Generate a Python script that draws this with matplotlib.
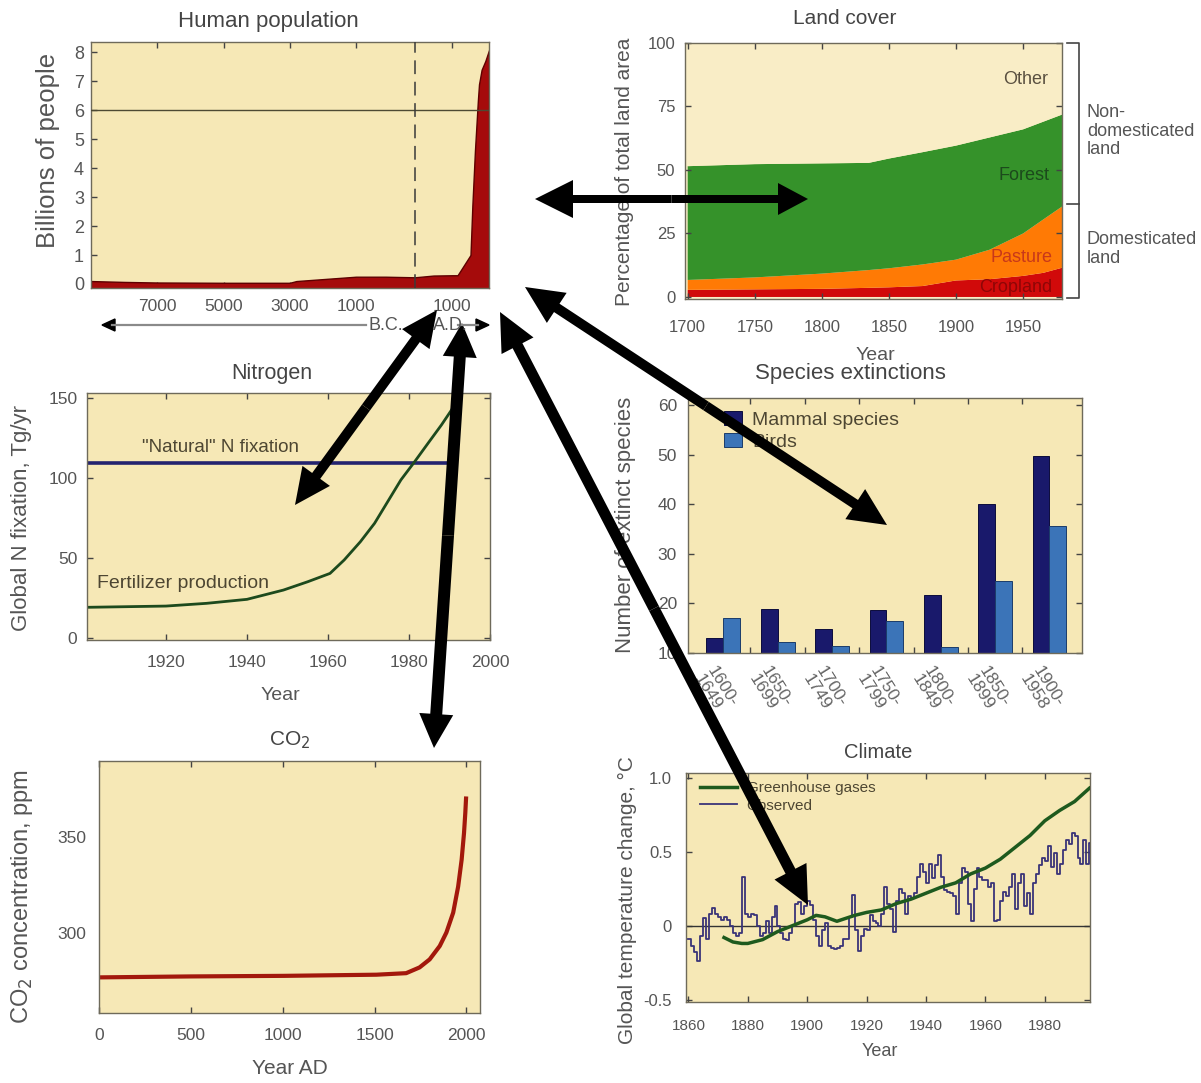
import numpy as np
import matplotlib
matplotlib.use("Agg")
import matplotlib.pyplot as plt
from matplotlib.patches import FancyArrow, Polygon

plt.rcParams['font.family'] = ['Liberation Sans', 'DejaVu Sans']

# ---------------- data ----------------
pop_years = [-9000, -8000, -7000, -5000, -3000, -2800, -1000, -500, 0, 500, 1000,
             1150, 1300, 1450, 1500, 1550, 1620, 1700, 1730, 1800, 1900, 2000]
pop_billions = [0.10, 0.07, 0.05, 0.04, 0.04, 0.10, 0.25, 0.25, 0.23, 0.29, 0.30,
                0.30, 0.60, 0.90, 1.00, 2.7, 4.6, 6.35, 6.9, 7.4, 7.7, 8.08]
pop_xticks = [-7000, -5000, -3000, -1000, 1000]
pop_xticklabels = ['7000', '5000', '3000', '1000', '1000']
pop_yticks = [0, 1, 2, 3, 4, 5, 6, 7, 8]

land_years = [1700, 1750, 1800, 1835, 1850, 1875, 1900, 1925, 1950, 1965, 1979]
cropland = [2.8, 3.0, 3.2, 3.6, 3.8, 4.3, 6.5, 7.0, 8.3, 9.5, 11.5]
pasture = [3.9, 4.7, 6.0, 7.0, 7.5, 8.5, 8.2, 11.6, 16.7, 21.0, 24.1]
forest = [44.8, 44.6, 43.4, 42.2, 43.2, 44.2, 44.9, 44.2, 41.0, 38.5, 36.2]
land_xticks = [1700, 1750, 1800, 1850, 1900, 1950]
land_yticks = [0, 25, 50, 75, 100]

n_years = [1900, 1920, 1930, 1940, 1949, 1955, 1960.5, 1964, 1968, 1971.5, 1975,
           1978, 1981.4, 1984.7, 1988, 1990.5]
fertilizer = [19.4, 20.2, 21.9, 24.4, 30.2, 35.4, 40.6, 49, 60.4, 71.9, 86.5,
              99, 110.4, 121.9, 133.3, 142.7]
natural_years = [1900, 1990]
natural_fix = [109.4, 109.4]
n_xticks = [1920, 1940, 1960, 1980, 2000]
n_yticks = [0, 50, 100, 150]

ext_periods = ['1600-\n1649', '1650-\n1699', '1700-\n1749', '1750-\n1799',
               '1800-\n1849', '1850-\n1899', '1900-\n1958']
mammals = [13.1, 18.9, 14.8, 18.6, 21.7, 40.1, 49.7]
birds = [17.0, 12.2, 11.5, 16.5, 11.2, 24.6, 35.6]
ext_yticks = [10, 20, 30, 40, 50, 60]

co2_years = [0, 500, 1007, 1510, 1672, 1745, 1800, 1855, 1891, 1928, 1955,
             1974, 1987, 1994, 1998]
co2_ppm = [276.6, 277.1, 277.4, 278.0, 278.8, 281.8, 286.0, 293.0, 300.0, 310.4,
           324.0, 338.0, 352.0, 362.5, 370.0]
co2_xticks = [0, 500, 1000, 1500, 2000]
co2_yticks = [300, 350]

ghg_years = [1872, 1875, 1878, 1880, 1885, 1890, 1895, 1900, 1903, 1906, 1910,
             1913, 1916, 1920, 1925, 1930, 1935, 1940, 1945, 1950, 1955, 1960,
             1965, 1970, 1975, 1980, 1985, 1990, 1995]
ghg_temp = [-0.08, -0.11, -0.12, -0.12, -0.094, -0.04, 0.0, 0.04, 0.07, 0.06,
            0.03, 0.05, 0.07, 0.09, 0.107, 0.15, 0.18, 0.22, 0.26, 0.29, 0.35,
            0.39, 0.45, 0.53, 0.61, 0.71, 0.78, 0.84, 0.93]
obs_years = list(range(1860, 1997))
obs_temp = [-0.09, -0.14, -0.18, -0.24, -0.07, 0.05, -0.09, 0.08, 0.12, 0.08,
            0.06, 0.04, 0.06, 0.04, 0.0, -0.05, -0.07, -0.05, 0.33, 0.08,
            0.06, 0.08, 0.07, 0.0, -0.07, -0.05, 0.03, -0.05, 0.06, 0.13,
            0.0, -0.05, -0.09, -0.10, -0.05, 0.0, 0.15, 0.16, 0.08, 0.13,
            0.17, 0.14, 0.04, -0.07, -0.14, -0.03, 0.02, -0.14, -0.15, -0.16,
            -0.15, -0.14, -0.09, -0.09, 0.06, 0.21, -0.03, -0.17, -0.07, -0.02,
            -0.03, 0.07, 0.03, 0.02, 0.0, 0.08, 0.26, 0.15, 0.11, -0.04,
            0.17, 0.25, 0.22, 0.08, 0.20, 0.19, 0.22, 0.33, 0.42, 0.36,
            0.29, 0.42, 0.32, 0.41, 0.48, 0.33, 0.24, 0.23, 0.22, 0.20,
            0.08, 0.29, 0.39, 0.36, 0.15, 0.03, 0.25, 0.39, 0.33, 0.31,
            0.31, 0.26, 0.29, 0.03, 0.04, 0.17, 0.23, 0.20, 0.26, 0.35,
            0.11, 0.29, 0.35, 0.13, 0.22, 0.08, 0.29, 0.35, 0.41, 0.46,
            0.44, 0.54, 0.40, 0.49, 0.35, 0.42, 0.51, 0.58, 0.55, 0.63,
            0.61, 0.46, 0.42, 0.58, 0.42, 0.56, 0.56]
clim_xticks = [1860, 1880, 1900, 1920, 1940, 1960, 1980]
clim_yticks = [-0.5, 0, 0.5, 1.0]
clim_yticklabels = ['-0.5', '0', '0.5', '1.0']

# ---------------- layout helpers ----------------
W, H = 1201, 1083
fig = plt.figure(figsize=(W / 100, H / 100), dpi=100)
fig.patch.set_facecolor('white')

BG = '#f6e8b6'
SPINE = '#6e6a5a'
TXT = '#555555'
TTL = '#444444'


def rect(l, t, r, b):
    return [l / W, 1 - b / H, (r - l) / W, (b - t) / H]


def fxy(px, py):
    return px / W, 1 - py / H


def style(ax, xsize=12.5, ysize=12.5, xpad=7, ypad=5, bg=BG):
    ax.set_facecolor(bg)
    for s in ax.spines.values():
        s.set_color(SPINE)
        s.set_linewidth(1.0)
    ax.tick_params(direction='in', top=True, right=True, length=4, width=1,
                   color='#444444', labelcolor=TXT)
    ax.tick_params(axis='x', labelsize=xsize, pad=xpad)
    ax.tick_params(axis='y', labelsize=ysize, pad=ypad)


def title(ax, text, px, py, size):
    l, b, w, h = ax.get_position().bounds
    fx, fy = fxy(px, py)
    ax.set_title(text, fontsize=size, color=TTL, va='center', ha='center',
                 x=(fx - l) / w, y=(fy - b) / h, pad=0, loc='center')


def xlabel(ax, text, px, py, size=14):
    ax.set_xlabel(text, fontsize=size, color=TXT, va='center')
    ax.xaxis.set_label_coords(*fxy(px, py), transform=fig.transFigure)


def ylabel(ax, text, px, py, size=15):
    ax.set_ylabel(text, fontsize=size, color=TXT, va='center')
    ax.yaxis.set_label_coords(*fxy(px, py), transform=fig.transFigure)


def pw(x, xs, ys):
    x = np.asarray(x, dtype=float)
    y = np.interp(x, xs, ys)
    y = np.where(x < xs[0], ys[0] + (x - xs[0]) * (ys[1] - ys[0]) / (xs[1] - xs[0]), y)
    y = np.where(x > xs[-1], ys[-1] + (x - xs[-1]) * (ys[-1] - ys[-2]) / (xs[-1] - xs[-2]), y)
    return y


# ---------------- Human population ----------------
ax1 = fig.add_axes(rect(91, 42, 489, 288))
style(ax1, xsize=12.5, ysize=13, xpad=8, ypad=5)
kn_year = [-9000.0, -1000.0, 0.0, 2000.0]
kn_pos = [0.0, 265.0, 324.0, 398.0]
ax1.set_xscale('function', functions=(lambda x: pw(x, kn_year, kn_pos),
                                      lambda p: pw(p, kn_pos, kn_year)))
ax1.fill_between(pop_years, pop_billions, -1, color='#a50b0b',
                 edgecolor='#5e0000', linewidth=1.0, zorder=2)
ax1.axhline(6, color='#4d4a33', lw=1.0, zorder=3)
ax1.axvline(0, color='#3a3a3a', lw=1.1, ls=(0, (9, 5)), zorder=3)
ax1.set_xlim(-9000, 2000)
ax1.set_ylim(-0.14, 8.36)
ax1.set_xticks(pop_xticks, pop_xticklabels)
ax1.set_yticks(pop_yticks)
ax1.tick_params(right=False)
title(ax1, 'Human population', 268, 21, 16)
ylabel(ax1, 'Billions of people', 48, 150, 18.5)

# ---------------- Land cover ----------------
ax2 = fig.add_axes(rect(685, 43, 1062, 299))
style(ax2, xsize=12, ysize=12, xpad=15, ypad=7, bg='#f9edc6')
other = [100 - c - p - f for c, p, f in zip(cropland, pasture, forest)]
ax2.stackplot(land_years, cropland, pasture, forest, other,
              colors=['#d10a0a', '#ff7a05', '#35922a', '#f9edc6'], lw=0)
ax2.set_xlim(1698, 1979)
ax2.set_ylim(-0.8, 100)
ax2.set_xticks(land_xticks)
ax2.set_yticks(land_yticks)
title(ax2, 'Land cover', 845, 19, 15)
xlabel(ax2, 'Year', 875, 355, 14)
ylabel(ax2, 'Percentage of total land area', 625, 172, 15)

# ---------------- Nitrogen ----------------
ax3 = fig.add_axes(rect(87, 393, 490, 640))
style(ax3, xsize=12.5, ysize=12.5, xpad=11, ypad=7)
ax3.plot(natural_years, natural_fix, color='#23236f', lw=2.6, solid_capstyle='butt')
ax3.plot(n_years, fertilizer, color='#1d4a1d', lw=2.0)
ax3.set_xlim(1900.5, 2000)
ax3.set_ylim(-1, 153.3)
ax3.set_xticks(n_xticks)
ax3.set_yticks(n_yticks)
title(ax3, 'Nitrogen', 272, 373, 15.5)
xlabel(ax3, 'Year', 280, 695, 14)
ylabel(ax3, 'Global N fixation, Tg/yr', 22, 518, 16)

# ---------------- Species extinctions ----------------
ax4 = fig.add_axes(rect(688, 398, 1082, 653))
style(ax4, xsize=11, ysize=12.5, xpad=4, ypad=8)
pos = np.arange(len(ext_periods))
bw = 0.31
b1 = ax4.bar(pos - bw / 2, mammals, bw, color='#19196b', edgecolor='#0c0c3c', lw=0.7)
b2 = ax4.bar(pos + bw / 2, birds, bw, color='#3b74b8', edgecolor='#1b3c6a', lw=0.7)
ax4.set_xlim(-0.65, 6.6)
ax4.set_ylim(10, 61.4)
ax4.set_yticks(ext_yticks)
ax4.set_xticks(pos[:-1] + 0.5)
ax4.tick_params(axis='x', labelbottom=False)
for i, lab in enumerate(ext_periods):
    ax4.text(i - 0.12, -0.04, lab, transform=ax4.get_xaxis_transform(),
             rotation=-58, rotation_mode='anchor', ha='left', va='top',
             fontsize=12.5, color='#666666', linespacing=1.0)
leg4 = ax4.legend([b1, b2], ['Mammal species', 'Birds'], loc='upper left',
                  bbox_to_anchor=((724 - 688) / 394, (653 - 411) / 255),
                  frameon=False, fontsize=14, handlelength=0.95, handleheight=0.75,
                  handletextpad=0.5, borderpad=0, borderaxespad=0, labelspacing=0.2)
for t in leg4.get_texts():
    t.set_color('#4d4632')
title(ax4, 'Species extinctions', 850, 373, 16)
ylabel(ax4, 'Number of extinct species', 625, 525, 16)

# ---------------- CO2 ----------------
ax5 = fig.add_axes(rect(99, 761, 480, 1013))
style(ax5, xsize=12.5, ysize=12.5, xpad=11, ypad=9)
ax5.plot(co2_years, co2_ppm, color='#a3180c', lw=3.0)
ax5.set_xlim(0, 2074)
ax5.set_ylim(258, 389.6)
ax5.set_xticks(co2_xticks)
ax5.set_yticks(co2_yticks)
ax5.tick_params(right=False, left=False)
title(ax5, 'CO$_2$', 290, 740, 15)
xlabel(ax5, 'Year AD', 290, 1068, 15)
ylabel(ax5, 'CO$_2$ concentration, ppm', 22, 897, 17)

# ---------------- Climate ----------------
ax6 = fig.add_axes(rect(686, 773, 1090, 1002))
style(ax6, xsize=11, ysize=12, xpad=12, ypad=10)
ax6.axhline(0, color='#333333', lw=1.0, zorder=2)
l_obs, = ax6.step(obs_years, obs_temp, where='post', color='#3a3478', lw=1.3, zorder=3)
l_ghg, = ax6.plot(ghg_years, ghg_temp, color='#1e5a1e', lw=2.5, zorder=4)
ax6.set_xlim(1859.2, 1995.2)
ax6.set_ylim(-0.516, 1.033)
ax6.set_xticks(clim_xticks)
ax6.set_yticks(clim_yticks, clim_yticklabels)
leg6 = ax6.legend([l_ghg, l_obs], ['Greenhouse gases', 'Observed'], loc='upper left',
                  bbox_to_anchor=((700 - 686) / 404, (1002 - 781) / 229),
                  frameon=False, fontsize=11, handlelength=2.4, handletextpad=0.65,
                  borderpad=0, borderaxespad=0, labelspacing=0.25)
for t in leg6.get_texts():
    t.set_color('#4d4632')
title(ax6, 'Climate', 878, 752, 14.5)
xlabel(ax6, 'Year', 880, 1052, 13)
ylabel(ax6, 'Global temperature change, \u00b0C', 627, 900, 15)

# ---------------- overlay: annotations and arrows ----------------
ov = fig.add_axes([0, 0, 1, 1], zorder=20)
ov.set_xlim(0, W)
ov.set_ylim(H, 0)
ov.axis('off')
ov.patch.set_alpha(0)

# land cover in-panel labels
ov.text(1048, 80, 'Other', ha='right', va='center', fontsize=13, color='#5a5040')
ov.text(1050, 175, 'Forest', ha='right', va='center', fontsize=13, color='#1c4a1c')
ov.text(1052, 257, 'Pasture', ha='right', va='center', fontsize=13, color='#c8381a')
ov.text(1052, 287, 'Cropland', ha='right', va='center', fontsize=13, color='#8e0606')

# bracket on the right of land cover
ov.plot([1067, 1079, 1079, 1067], [43, 43, 298, 298], color='#444444', lw=1.2)
ov.plot([1067, 1079], [204, 204], color='#444444', lw=1.2)
ov.text(1087, 131, 'Non-\ndomesticated\nland', ha='left', va='center',
        fontsize=13, color=TXT, linespacing=1.15)
ov.text(1087, 249, 'Domesticated\nland', ha='left', va='center',
        fontsize=13, color=TXT, linespacing=1.1)

# nitrogen labels
ov.text(142, 447, '"Natural" N fixation', ha='left', va='center', fontsize=13.5, color='#4d4632')
ov.text(97, 584, 'Fertilizer production', ha='left', va='center', fontsize=14, color='#4d4632')

# B.C. / A.D. markers
ov.plot([112, 366], [325, 325], color='#8a8a8a', lw=1.6)
ov.add_patch(Polygon([[102, 325], [115, 319], [115, 331]], closed=True, color='black'))
ov.text(369, 325, 'B.C.', ha='left', va='center', fontsize=13, color=TXT)
ov.text(433, 325, 'A.D.', ha='left', va='center', fontsize=13, color=TXT)
ov.plot([458, 478], [325, 325], color='#8a8a8a', lw=1.6)
ov.add_patch(Polygon([[489, 325], [476, 319], [476, 331]], closed=True, color='black'))


def darrow(p1, p2, w, hw1, hl1, hw2=None, hl2=None):
    hw2 = hw1 if hw2 is None else hw2
    hl2 = hl1 if hl2 is None else hl2
    mx, my = (p1[0] + p2[0]) / 2, (p1[1] + p2[1]) / 2
    for (x, y), hw, hl in ((p1, hw1, hl1), (p2, hw2, hl2)):
        ov.add_patch(FancyArrow(mx, my, x - mx, y - my, width=w, head_width=hw,
                                head_length=hl, length_includes_head=True,
                                color='black', lw=0))


darrow((535, 199), (808, 199), 8, 38, 38, 32, 30)
darrow((525, 287), (887, 525), 10, 36, 38)
darrow((500, 312), (808, 905), 11, 36, 38)
darrow((462, 323), (434, 748), 12, 34, 34)
darrow((437, 310), (295, 505), 10, 34, 36)

fig.savefig('out.png', dpi=100, facecolor='white')
